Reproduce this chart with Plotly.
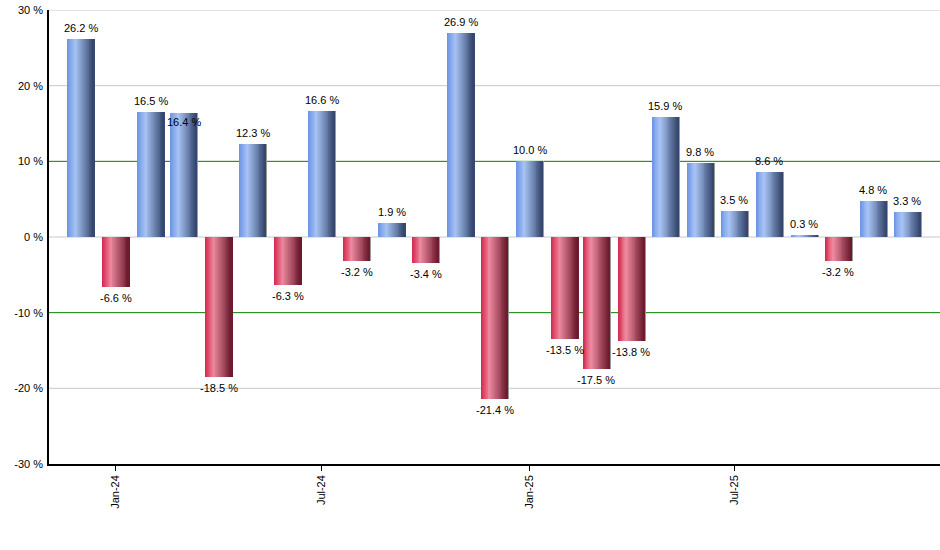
import plotly.graph_objects as go

# miesiace i zwroty miesieczne (w %)
miesiace = ['2023-12-01', '2024-01-01', '2024-02-01', '2024-03-01', '2024-04-01',
            '2024-05-01', '2024-06-01', '2024-07-01', '2024-08-01', '2024-09-01',
            '2024-10-01', '2024-11-01', '2024-12-01', '2025-01-01', '2025-02-01',
            '2025-03-01', '2025-04-01', '2025-05-01', '2025-06-01', '2025-07-01',
            '2025-08-01', '2025-09-01', '2025-10-01', '2025-11-01', '2025-12-01']
zwroty = [26.2, -6.6, 16.5, 16.4, -18.5, 12.3, -6.3, 16.6, -3.2, 1.9, -3.4, 26.9,
          -21.4, 10.0, -13.5, -17.5, -13.8, 15.9, 9.8, 3.5, 8.6, 0.3, -3.2, 4.8, 3.3]

tick_daty = ['2024-01-01', '2024-07-01', '2025-01-01', '2025-07-01']
tick_opisy = ['Jan-24', 'Jul-24', 'Jan-25', 'Jul-25']

y_ticki = [-30, -20, -10, 0, 10, 20, 30]
y_opisy = ['-30 %', '-20 %', '-10 %', '0 %', '10 %', '20 %', '30 %']

DZIEN = 86400000
SZER = 23 * DZIEN  # szerokosc slupka w ms
N = 28  # paski gradientu


def mix(c1, c2, t):
    return '#%02x%02x%02x' % tuple(int(round(a + (b - a) * t)) for a, b in zip(c1, c2))


def gradient(lewy, jasny, ciemny, t):
    if t < 0.32:
        return mix(lewy, jasny, t / 0.32)
    return mix(jasny, ciemny, (t - 0.32) / 0.68)


niebieski = ((0x6c, 0x93, 0xe4), (0xa9, 0xc5, 0xf5), (0x33, 0x45, 0x6c))
czerwony = ((0xd4, 0x26, 0x4c), (0xef, 0x8b, 0xa1), (0x6a, 0x18, 0x2b))

fig = go.Figure()

# cien po prawej stronie slupka
fig.add_trace(go.Bar(x=miesiace, y=zwroty, width=SZER / 10, offset=SZER / 2 - SZER / 20,
                     marker=dict(color='#9a9a9a', line=dict(width=0)), hoverinfo='skip'))

for i in range(N):
    t = (i + 0.5) / N
    kolory = [gradient(*(niebieski if v >= 0 else czerwony), t) for v in zwroty]
    fig.add_trace(go.Bar(x=miesiace, y=zwroty, width=SZER / N * 2.0,
                         offset=-SZER / 2 + i * SZER / N,
                         marker=dict(color=kolory, line=dict(width=0)),
                         hovertemplate='%{x|%b-%y}: %{y:.1f} %<extra></extra>'))

# etykiety wartosci
for m, v in zip(miesiace, zwroty):
    if v >= 0:
        przes = 3 if v != 16.4 else -17
        fig.add_annotation(x=m, y=v, text='%.1f %%' % v, showarrow=False,
                           yanchor='bottom', yshift=przes,
                           font=dict(size=11, color='black', family='Liberation Sans, Arial'))
    else:
        fig.add_annotation(x=m, y=v, text='%.1f %%' % v, showarrow=False,
                           yanchor='top', yshift=-3,
                           font=dict(size=11, color='black', family='Liberation Sans, Arial'))

# linie siatki: szare, a na +/-10 % zielone
for poziom in [30, 20, 0, -20]:
    fig.add_shape(type='line', xref='paper', x0=0, x1=1, y0=poziom, y1=poziom,
                  line=dict(color='#c8c8c8', width=1), layer='below')
for poziom in [10, -10]:
    fig.add_shape(type='line', xref='paper', x0=0, x1=1, y0=poziom, y1=poziom,
                  line=dict(color='#008000', width=1), layer='below')

fig.update_layout(
    width=940, height=550,
    margin=dict(l=49, r=0, t=10, b=86),
    barmode='overlay',
    bargap=0,
    showlegend=False,
    plot_bgcolor='white',
    paper_bgcolor='white',
    font=dict(family='Liberation Sans, Arial', size=11, color='black'),
    xaxis=dict(
        type='date',
        range=['2023-11-03', '2025-12-30'],
        tickvals=tick_daty,
        ticktext=tick_opisy,
        tickangle=-90,
        ticks='outside', ticklen=5, tickcolor='black',
        showgrid=False,
        showline=True, linecolor='black', linewidth=1.5,
        zeroline=False,
        automargin=False,
    ),
    yaxis=dict(
        range=[-30, 30],
        tickvals=y_ticki,
        ticktext=y_opisy,
        showgrid=False,
        zeroline=False,
        showline=True, linecolor='black', linewidth=1.5,
        ticks='', ticklabelstandoff=2,
        automargin=False,
    ),
)

# bez domyslnego marginesu strony (8 px) i bez paska narzedzi
fig.write_html('out.html', config={'displayModeBar': False},
               post_script="document.body.style.margin='0';")
